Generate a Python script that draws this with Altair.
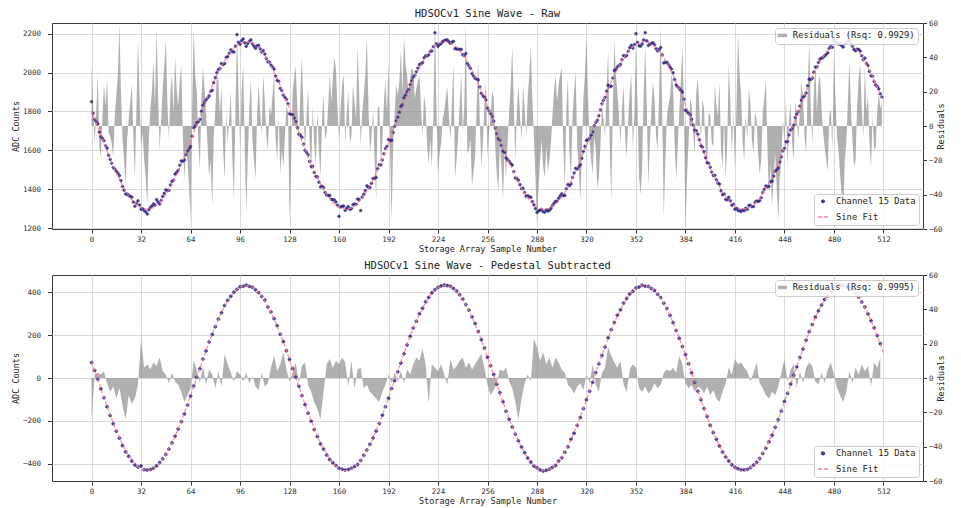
import altair as alt
import pandas as pd

FONT = "DejaVu Sans Mono"

# storage-array sample numbers: every sample for the raw panel, every other one for the pedestal panel
RAW_SAMPLES = list(range(0, 512))
PED_SAMPLES = list(range(0, 512, 2))
FIT_X = list(range(0, 513, 4))
X_TICKS = list(range(0, 513, 32))

RAW_TITLE = "HDSOCv1 Sine Wave - Raw"
PED_TITLE = "HDSOCv1 Sine Wave - Pedestal Subtracted"
RAW_RSQ = "Residuals (Rsq: 0.9929)"
PED_RSQ = "Residuals (Rsq: 0.9995)"
SERIES = ["Channel 15 Data", "Sine Fit"]

RAW_Y_TICKS = [1200, 1400, 1600, 1800, 2000, 2200]
PED_Y_TICKS = [-400, -200, 0, 200, 400]
RES_TICKS = [-60, -40, -20, 0, 20, 40, 60]

RAW_DATA = [
    1850, 1790, 1758, 1746, 1736, 1694, 1670, 1661, 1649, 1623, 1611, 1574, 1553, 1533, 1511, 1504,
    1492, 1482, 1470, 1444, 1414, 1395, 1375, 1375, 1368, 1363, 1359, 1334, 1312, 1326, 1340, 1318,
    1297, 1299, 1290, 1283, 1272, 1294, 1305, 1313, 1324, 1317, 1346, 1333, 1323, 1342, 1362, 1378,
    1396, 1392, 1394, 1422, 1440, 1446, 1478, 1486, 1497, 1523, 1545, 1544, 1550, 1578, 1596, 1609,
    1619, 1672, 1716, 1724, 1740, 1747, 1759, 1801, 1831, 1845, 1859, 1869, 1880, 1904, 1909, 1948,
    1974, 2000, 2015, 2021, 2046, 2041, 2046, 2078, 2082, 2099, 2117, 2108, 2106, 2136, 2195, 2156,
    2146, 2164, 2173, 2153, 2135, 2149, 2161, 2168, 2148, 2136, 2125, 2137, 2140, 2122, 2106, 2113,
    2095, 2072, 2055, 2054, 2038, 2028, 2018, 1982, 1960, 1955, 1919, 1908, 1884, 1873, 1862, 1839,
    1788, 1784, 1783, 1766, 1748, 1716, 1684, 1678, 1667, 1632, 1600, 1589, 1577, 1543, 1516, 1517,
    1486, 1465, 1463, 1436, 1411, 1415, 1408, 1382, 1370, 1368, 1367, 1348, 1345, 1345, 1334, 1317,
    1260, 1308, 1312, 1313, 1291, 1302, 1310, 1296, 1300, 1321, 1322, 1322, 1349, 1346, 1290, 1359,
    1374, 1393, 1417, 1410, 1409, 1430, 1455, 1456, 1460, 1505, 1525, 1525, 1550, 1582, 1609, 1620,
    1655, 1650, 1651, 1692, 1723, 1752, 1770, 1795, 1825, 1834, 1870, 1883, 1900, 1913, 1937, 1958,
    1976, 1985, 2004, 2023, 2041, 2045, 2051, 2076, 2086, 2086, 2091, 2109, 2111, 2133, 2205, 2148,
    2135, 2144, 2150, 2159, 2164, 2167, 2168, 2159, 2150, 2156, 2161, 2123, 2122, 2120, 2119, 2119,
    2092, 2087, 2098, 2047, 2035, 2022, 1994, 1982, 1970, 1967, 1962, 1926, 1894, 1881, 1872, 1859,
    1817, 1803, 1787, 1773, 1750, 1715, 1686, 1660, 1653, 1626, 1596, 1590, 1561, 1552, 1543, 1532,
    1524, 1490, 1458, 1455, 1446, 1423, 1402, 1404, 1383, 1364, 1366, 1361, 1358, 1336, 1319, 1300,
    1280, 1287, 1292, 1295, 1284, 1282, 1293, 1287, 1291, 1301, 1315, 1327, 1337, 1338, 1353, 1365,
    1376, 1366, 1368, 1402, 1424, 1418, 1427, 1460, 1483, 1507, 1504, 1516, 1525, 1558, 1594, 1620,
    1651, 1654, 1663, 1678, 1695, 1727, 1744, 1754, 1778, 1808, 1840, 1857, 1872, 1904, 1935, 1927,
    1930, 1972, 2010, 2016, 2028, 2035, 2042, 2066, 2087, 2083, 2088, 2109, 2128, 2140, 2126, 2144,
    2200, 2155, 2138, 2136, 2147, 2168, 2205, 2163, 2139, 2146, 2151, 2153, 2143, 2123, 2111, 2119,
    2129, 2091, 2049, 2053, 2053, 2040, 2028, 2018, 1999, 1964, 1936, 1927, 1919, 1908, 1899, 1863,
    1806, 1800, 1790, 1782, 1759, 1730, 1703, 1700, 1683, 1654, 1624, 1616, 1592, 1561, 1537, 1533,
    1513, 1488, 1470, 1471, 1448, 1431, 1426, 1392, 1372, 1375, 1347, 1346, 1358, 1340, 1317, 1322,
    1297, 1301, 1290, 1288, 1285, 1293, 1289, 1302, 1296, 1316, 1317, 1310, 1311, 1332, 1339, 1337,
    1340, 1356, 1383, 1399, 1416, 1412, 1414, 1438, 1441, 1467, 1492, 1500, 1509, 1541, 1566, 1597,
    1610, 1644, 1645, 1679, 1704, 1714, 1730, 1768, 1785, 1799, 1827, 1857, 1872, 1880, 1895, 1932,
    1966, 1964, 1971, 2002, 2028, 2029, 2052, 2069, 2074, 2078, 2086, 2093, 2101, 2125, 2134, 2130,
    2165, 2156, 2149, 2148, 2145, 2139, 2131, 2148, 2152, 2160, 2167, 2149, 2135, 2119, 2112, 2120,
    2119, 2111, 2086, 2066, 2074, 2046, 2036, 2006, 1984, 1981, 1954, 1937, 1929, 1916, 1891, 1874,
]

RAW_RESID = [
    36, 12, -10, 8, 31, -12, -18, 5, 24, 12, 28, -4, -6, -10, -18, 6,
    18, 30, 59, 20, -8, -20, -35, -8, 4, 14, 24, -6, -30, 10, 50, 18,
    -12, -4, -20, -30, -47, -8, 10, 20, 38, 12, 57, 18, -14, 4, 22, 35,
    50, 14, -8, 20, 30, 8, 40, 22, 12, 26, 35, -6, -31, -14, -20, -35,
    -55, 10, 56, 30, 20, -8, -26, 16, 34, 22, 8, -12, -30, -20, -47, -6,
    10, 30, 26, 6, 24, -12, -31, 8, -10, 4, 20, -18, -43, 6, 54, 20,
    -12, 20, 35, -10, -51, -18, 10, 28, -8, -20, -31, 6, 24, 8, -5, 30,
    14, -6, -14, 12, 6, 18, 30, -8, -20, 6, -28, -14, -24, -6, 12, 8,
    -55, -20, 20, 28, 35, 12, -10, 20, 40, 10, -14, 6, 22, -10, -27, 12,
    -12, -22, 8, -14, -30, 4, 18, -8, -4, 12, 30, 14, 28, 40, 33, 10,
    -8, 10, 24, 30, -10, 8, 20, -10, -6, 24, 14, 4, 46, 20, -12, 8,
    18, 30, 52, 12, -16, -6, 9, -20, -43, 10, 12, -24, -10, 14, 26, 8,
    38, -14, -55, -12, 8, 24, 18, 26, 44, 20, 52, 36, 30, 18, 28, 34,
    32, 16, 22, 26, 30, 10, -6, 18, 10, -12, -22, -8, -24, 6, 60, 10,
    -28, -16, -10, 4, 8, 16, 23, 6, -8, 14, 36, -30, -20, -6, 12, 30,
    -4, 12, 60, -16, -14, -8, -35, -26, -18, 12, 38, 4, -24, -10, 12, 26,
    -18, -4, 6, 20, 17, -12, -28, -38, -10, -24, -43, -14, -30, -10, 8, 24,
    46, 12, -20, 8, 24, 6, -8, 24, 10, -6, 17, 30, 46, 16, -6, -30,
    -57, -36, -20, -8, -24, -30, -12, -26, -20, -10, 6, 20, 30, 14, 24, 30,
    34, -12, -35, 10, 28, -16, -30, 6, 20, 32, -12, -24, -43, -16, 16, 30,
    52, 16, -8, -20, -28, -6, -14, -36, -30, -12, 12, 4, -6, 20, 44, -10,
    -43, 8, 50, 30, 20, 6, -10, 10, 24, -6, -18, 4, 20, 30, -14, 8,
    50, 10, -30, -40, -24, 20, 46, 12, -35, -10, 10, 26, 15, -6, -14, 20,
    58, 6, -53, -20, 6, 12, 17, 30, 24, -10, -31, -12, 8, 26, 46, 14,
    -60, -30, -10, 16, 12, -4, -16, 20, 28, 10, -8, 16, 10, -14, -24, 8,
    6, -10, -12, 24, 12, 6, 26, -14, -24, 4, -31, -10, 36, 14, -16, 8,
    -26, 12, 54, 30, 18, -10, -20, 6, -8, 22, 13, -8, -16, 8, 4, -16,
    -28, -20, 8, 16, 27, -12, -40, -22, -47, -30, -16, -36, -55, -30, -20, 4,
    -10, 16, -24, 4, 13, -10, -20, 14, 6, -8, 9, 26, 17, -6, -16, 20,
    50, 12, -10, 18, 36, 8, 25, 30, 10, -4, -12, -20, -26, 6, 10, -14,
    42, 16, -6, -14, -28, -40, -55, -20, -10, 14, 38, 10, -8, -24, -20, 12,
    28, 36, 10, -6, 34, 8, 18, -10, -24, 6, -14, -12, 8, 20, 10, 14,
]

RAW_FIT = [
    1805, 1721, 1637, 1556, 1483, 1418, 1366, 1327, 1303, 1296,
    1305, 1330, 1371, 1425, 1491, 1565, 1646, 1730, 1814, 1895,
    1969, 2034, 2087, 2127, 2152, 2160, 2152, 2128, 2088, 2035,
    1970, 1896, 1815, 1731, 1647, 1566, 1492, 1426, 1372, 1331,
    1305, 1296, 1303, 1326, 1365, 1417, 1482, 1555, 1636, 1719,
    1803, 1885, 1960, 2026, 2081, 2123, 2149, 2160, 2154, 2132,
    2094, 2042, 1979, 1906, 1826, 1742, 1658, 1576, 1501, 1434,
    1378, 1335, 1308, 1296, 1301, 1322, 1359, 1410, 1473, 1546,
    1625, 1709, 1793, 1875, 1951, 2018, 2075, 2118, 2147, 2159,
    2156, 2135, 2100, 2050, 1987, 1915, 1836, 1753, 1669, 1587,
    1510, 1442, 1384, 1340, 1310, 1297, 1300, 1319, 1354, 1403,
    1464, 1536, 1615, 1698, 1782, 1864, 1941, 2010, 2069, 2114,
    2144, 2159, 2157, 2139, 2105, 2057, 1996, 1925, 1847,
]

PED_DATA = [
    72, 35, -6, -50, -92, -134, -175, -213, -248, -280, -315, -344, -365, -387, -405, -415,
    -410, -427, -429, -426, -420, -409, -394, -376, -356, -331, -302, -271, -238, -203, -168, -126,
    -84, -37, 4, 43, 88, 126, 168, 203, 239, 275, 304, 338, 362, 381, 400, 413,
    425, 428, 433, 427, 423, 411, 398, 380, 363, 331, 308, 277, 244, 204, 170, 127,
    86, 44, 4, -38, -82, -124, -164, -201, -240, -273, -307, -331, -359, -380, -395, -408,
    -421, -425, -429, -426, -421, -413, -403, -384, -360, -335, -309, -280, -247, -212, -174, -134,
    -94, -49, -12, 29, 70, 113, 154, 194, 233, 265, 299, 325, 355, 376, 397, 411,
    422, 429, 433, 431, 427, 417, 406, 388, 368, 342, 316, 285, 254, 217, 179, 140,
    97, 57, 16, -29, -68, -110, -155, -192, -228, -262, -293, -321, -348, -373, -392, -410,
    -418, -428, -433, -430, -425, -416, -408, -387, -372, -346, -320, -285, -257, -221, -184, -143,
    -101, -62, -20, 25, 66, 105, 145, 187, 225, 259, 293, 318, 349, 371, 392, 404,
    420, 424, 432, 428, 427, 417, 408, 390, 375, 348, 324, 292, 258, 221, 185, 147,
    109, 66, 24, -20, -62, -101, -142, -179, -220, -254, -285, -317, -345, -368, -387, -404,
    -416, -423, -428, -428, -426, -418, -406, -393, -375, -352, -327, -297, -267, -230, -194, -154,
    -109, -72, -28, 14, 52, 96, 135, 176, 216, 249, 284, 313, 340, 366, 383, 403,
    417, 426, 433, 431, 428, 421, 412, 396, 378, 354, 331, 299, 267, 234, 198, 160,
]

PED_RESID = [
    -24, 2, 3, 2, 4, -3, -8, -5, -12, -6, -16, -24, -10, -15, -12, -4,
    23, 6, 8, 5, 9, 7, 12, 4, 2, -3, 3, -2, -4, -8, -14, -10,
    -6, 10, 5, -3, 7, -4, 5, 2, -6, 4, -5, 14, 8, 3, -2, 4,
    2, -2, 3, -3, 1, -5, -7, 3, -5, -3, 6, 13, 4, 8, 15, 5,
    -2, 3, 9, -3, 7, 9, -4, -8, -14, -18, -24, -8, 8, 11, 6, 10,
    8, 12, 9, -5, 10, -6, 5, 6, -6, -4, -8, -10, -12, -14, -8, -4,
    2, -3, 3, -2, 4, -3, 5, 2, 8, 12, 10, 17, 8, -15, 8, 6,
    4, 8, 2, -4, 11, 5, 7, 10, 12, 6, 9, 5, 8, 11, 14, 6,
    -4, -10, -7, -3, 5, 4, 6, -2, -6, -14, -24, -12, -3, 2, -2, 23,
    18, 10, 15, 8, 12, 6, 12, 9, 5, 3, -4, -6, -9, -5, -3, -7,
    2, -3, 8, -4, -8, 3, 6, 18, 13, 9, 6, 10, -4, -8, 5, 8,
    6, -6, -8, -5, -9, -7, -3, -6, -4, 3, 5, 4, 6, 3, 13, 8,
    -3, -6, -4, -8, -5, -6, -9, -5, -10, -7, -12, -14, -8, -3, 6, 2,
    11, 8, 9, 6, 4, -2, 3, 9, -3, -6, -10, -12, -8, -10, -5, 3,
    11, -2, 5, 8, -6, 4, -3, 6, 9, 7, -2, -4, 3, -3, 5, 9,
    2, -6, -10, -14, -8, 4, -3, 6, 2, 8, 4, 7, -5, 9, 6, 12,
]

PED_FIT = [
    77, -7, -91, -172, -245, -310, -362, -401, -425, -432,
    -423, -398, -357, -303, -237, -163, -82, 2, 86, 167,
    241, 306, 359, 399, 424, 432, 424, 400, 360, 307,
    242, 168, 87, 3, -81, -162, -236, -302, -356, -397,
    -423, -432, -425, -402, -363, -311, -246, -173, -92, -9,
    75, 157, 232, 298, 353, 395, 421, 432, 426, 404,
    366, 314, 251, 178, 98, 14, -70, -152, -227, -294,
    -350, -393, -420, -432, -427, -406, -369, -318, -255, -182,
    -103, -19, 65, 147, 223, 290, 347, 390, 419, 431,
    428, 407, 372, 322, 259, 187, 108, 25, -59, -141,
    -218, -286, -344, -388, -418, -431, -428, -409, -374, -325,
    -264, -192, -113, -30, 54, 136, 213, 282, 341, 386,
    416, 431, 429, 411, 377, 329, 268, 197, 119,
]

POINT_COLOR = "#2f2a86"
FIT_COLOR = "#ff7590"
RESID_COLOR = "#8a8a8a"
MINUS = "replace(datum.label, '-', '\u2212')"


def data_legend():
    return alt.Legend(
        title=None, orient="bottom-right", offset=4, padding=3, cornerRadius=3,
        fillColor="rgba(255,255,255,0.85)", strokeColor="#cccccc",
        labelFont=FONT, labelFontSize=8.8, labelColor="#222222", labelOffset=7,
        rowPadding=4, symbolStrokeWidth=1.3,
    )


def resid_legend():
    return alt.Legend(
        title=None, orient="top-right", offset=5, padding=3, cornerRadius=3,
        fillColor="rgba(255,255,255,0.85)", strokeColor="#cccccc",
        labelFont=FONT, labelFontSize=8.8, labelColor="#222222", labelOffset=6,
        symbolType="M-1.3,-0.5L1.3,-0.5L1.3,0.5L-1.3,0.5Z", symbolSize=49,
        symbolStrokeWidth=0,
    )


def panel(title, samples, data, resid, fit, ydomain, yticks, rsq, point_size):
    pts = pd.DataFrame({"x": samples, "y": data, "series": SERIES[0]})
    fit_df = pd.DataFrame({"x": FIT_X, "y": fit, "series": SERIES[1]})
    res = pd.DataFrame({"x": samples, "r": resid, "lbl": rsq})

    x_scale = alt.Scale(domain=[-25.6, 537.6], nice=False, zero=False)
    x_axis = alt.Axis(values=X_TICKS, format="d", title="Storage Array Sample Number",
                      grid=True, tickSize=4, labelPadding=2, titlePadding=2, domain=False)
    y_scale = alt.Scale(domain=ydomain, nice=False, zero=False)
    y_axis = alt.Axis(orient="left", values=yticks, format="d", title="ADC Counts",
                      grid=True, tickSize=4.5, labelPadding=7, titlePadding=2,
                      domain=False, labelExpr=MINUS)
    r_axis = alt.Axis(orient="right", values=RES_TICKS, format="d", title="Residuals",
                      grid=False, tickSize=3.5, labelPadding=2, titlePadding=3,
                      titleAngle=270, domain=False, labelExpr=MINUS)
    color_scale = alt.Scale(domain=SERIES, range=[POINT_COLOR, FIT_COLOR])
    shape_scale = alt.Scale(domain=SERIES, range=["circle", "stroke"])
    size_scale = alt.Scale(domain=SERIES, range=[point_size, 100])
    dash_scale = alt.Scale(domain=SERIES, range=[[1, 0], [4, 2]])

    resid_layer = alt.Chart(res).mark_area(opacity=0.68, interpolate="linear").encode(
        x=alt.X("x:Q", scale=x_scale, axis=x_axis),
        y=alt.Y("r:Q", scale=alt.Scale(domain=[-60, 60], nice=False, zero=False), axis=r_axis),
        y2=alt.datum(0),
        fill=alt.Fill("lbl:N", scale=alt.Scale(range=[RESID_COLOR]), legend=resid_legend()),
    )
    pts_layer = alt.Chart(pts).mark_point(filled=False, fill=POINT_COLOR, strokeWidth=0.7,
                                          opacity=0.9).encode(
        x=alt.X("x:Q", scale=x_scale, axis=x_axis),
        y=alt.Y("y:Q", scale=y_scale, axis=y_axis),
        color=alt.Color("series:N", scale=color_scale, legend=data_legend()),
        shape=alt.Shape("series:N", scale=shape_scale, legend=data_legend()),
        size=alt.Size("series:N", scale=size_scale, legend=data_legend()),
        strokeDash=alt.StrokeDash("series:N", scale=dash_scale, legend=data_legend()),
    )
    fit_layer = alt.Chart(fit_df).mark_line(strokeWidth=1.2, opacity=0.85).encode(
        x=alt.X("x:Q", scale=x_scale, axis=x_axis),
        y=alt.Y("y:Q", scale=y_scale, axis=y_axis),
        color=alt.Color("series:N", scale=color_scale, legend=None),
        strokeDash=alt.StrokeDash("series:N", scale=dash_scale, legend=None),
    )
    main = alt.layer(pts_layer, fit_layer)
    return alt.layer(resid_layer, main).resolve_scale(y="independent").properties(
        width=871, height=206,
        title=alt.Title(title, font=FONT, fontSize=10.5, fontWeight="normal",
                        color="#222222", anchor="middle", frame="group", offset=0),
    )


top = panel(RAW_TITLE, RAW_SAMPLES, RAW_DATA, RAW_RESID, RAW_FIT, [1195, 2255],
            RAW_Y_TICKS, RAW_RSQ, 7)
bottom = panel(PED_TITLE, PED_SAMPLES, PED_DATA, PED_RESID, PED_FIT, [-480, 480],
               PED_Y_TICKS, PED_RSQ, 9)

chart = (
    alt.vconcat(top, bottom, spacing=6)
    .resolve_scale(x="independent", y="independent", color="independent", fill="independent",
                   shape="independent", size="independent", strokeDash="independent")
    .resolve_legend(color="independent", fill="independent", shape="independent",
                    size="independent", strokeDash="independent")
    .properties(padding={"left": 2, "top": 0, "right": 0, "bottom": 0})
    .configure_axis(labelFont=FONT, titleFont=FONT, labelFontSize=7.5, titleFontSize=8.5,
                    titleFontWeight="normal", labelColor="#333333", titleColor="#222222",
                    tickColor="#333333", gridColor="#d6d6d6", gridWidth=0.9)
    .configure_view(stroke="#3a3a3a", strokeWidth=1)
)

chart.save("out.html", embed_options={"renderer": "svg", "actions": False})
